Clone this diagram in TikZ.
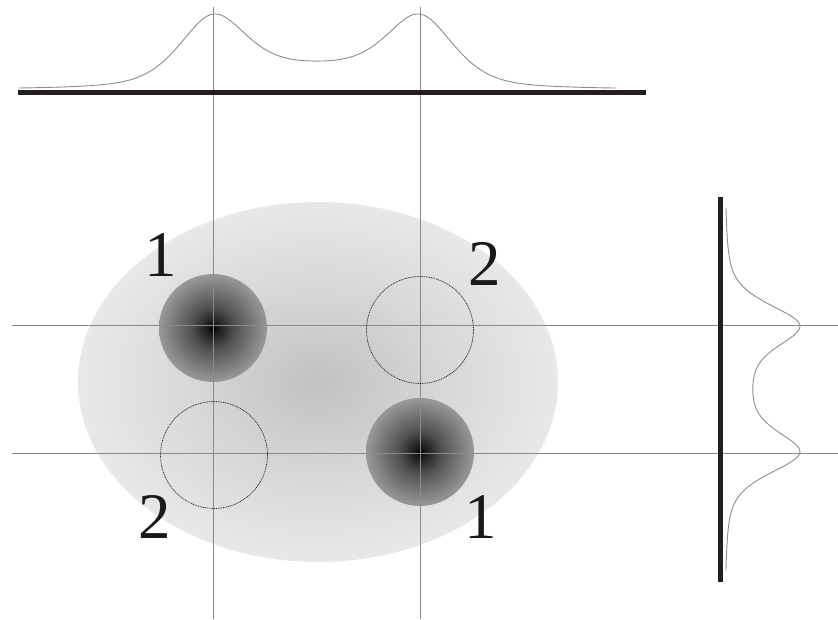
\documentclass[tikz,border=0pt]{standalone}
\usepackage{fontspec}
\setmainfont{Liberation Serif}
\newfontfamily\labfont{Liberation Serif}
\definecolor{ellin}{HTML}{BFC1C3}
\definecolor{ellmid}{HTML}{D6D7D8}
\definecolor{ellout}{HTML}{E8E8E9}
\definecolor{thick}{HTML}{231F20}
\definecolor{thin}{HTML}{8A8A8A}
\definecolor{curve}{HTML}{8C8C8C}
\pgfdeclareradialshading{ellshade}{\pgfpoint{0bp}{0bp}}{color(0bp)=(ellin); color(13bp)=(ellmid); color(25bp)=(ellout); color(50bp)=(ellout)}
\pgfdeclareradialshading{spotshade}{\pgfpoint{0bp}{0bp}}{color(0bp)=(black); color(3bp)=(black!88); color(10bp)=(black!68); color(25bp)=(black!40); color(50bp)=(black!40)}
\tikzset{
  thinline/.style={draw=thin, line width=1pt},
  thickline/.style={draw=thick, line width=5pt},
  profile/.style={draw=curve, line width=0.9pt},
  spot/.style={shading=spotshade},
  ring/.style={draw=black!80, line width=0.8pt, dash pattern=on 1pt off 0.8pt},
  lab/.style={inner sep=0pt, anchor=center, font=\labfont\fontsize{65}{65}\selectfont, text=black!90}
}
\begin{document}
\begin{tikzpicture}[x=1pt,y=-1pt,
  declare function={
    pv(\d)=0.5*exp(max(-0.5*(\d/34)^2,-9))+0.5/(1+(\d/40)^2);
    prof(\s)=66*(pv(\s-103.5)+pv(\s+103.5))+19.4*exp(max(-0.5*(\s/80)^2,-9));
  }]
\useasboundingbox (0,0) rectangle (838,619);
% background ellipse
\shade[shading=ellshade] (318,382) ellipse [x radius=240pt, y radius=180pt];
% dark spots
\shade[spot] (213,328) circle [radius=54pt];
\shade[spot] (420,452) circle [radius=54pt];
% guide lines
\coordinate (v1t) at (213,7);   \coordinate (v1b) at (213,619);
\coordinate (v2t) at (420,7);   \coordinate (v2b) at (420,619);
\coordinate (h1l) at (12,325);  \coordinate (h1r) at (838,325);
\coordinate (h2l) at (12,453);  \coordinate (h2r) at (838,453);
\draw[thinline] (v1t) -- (v1b);
\draw[thinline] (v2t) -- (v2b);
\draw[thinline] (h1l) -- (h1r);
\draw[thinline] (h2l) -- (h2r);
% dotted rings
\draw[ring] (420,330) circle [radius=53.5pt];
\draw[ring] (214,455) circle [radius=53.5pt];
% axes
\coordinate (ta) at (18,92);   \coordinate (tb) at (646,92);
\coordinate (ra) at (720,197); \coordinate (rb) at (720,582);
\draw[thickline] (ta) -- (tb);
\draw[thickline] (ra) -- (rb);
% profiles
\draw[profile] plot[domain=-298:300, samples=240, smooth] ({316.5+\x},{89.7-prof(\x)});
\draw[profile] plot[domain=-293:293, samples=240, smooth] ({724.2+prof(\x)},{389+0.618*\x});
% labels
\node[lab] (l1a) at (161,255) {1};
\node[lab] (l2a) at (485,263.5) {2};
\node[lab] (l2b) at (154.5,517) {2};
\node[lab] (l1b) at (481,517.5) {1};
\end{tikzpicture}
\end{document}
